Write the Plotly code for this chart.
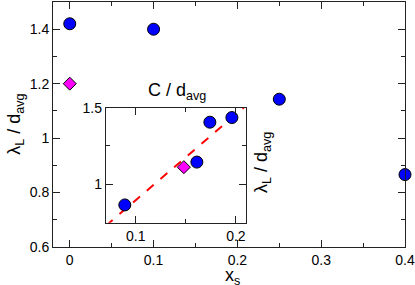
import plotly.graph_objects as go

# main data
xs_circles = [0.0, 0.1, 0.25, 0.4]
lam_circles = [1.42, 1.40, 1.143, 0.866]
xs_diamond = [0.0]
lam_diamond = [1.20]

# inset data
c_circles = [0.089, 0.161, 0.174, 0.196]
lam_in_circles = [0.866, 1.145, 1.405, 1.435]
c_diamond = [0.148]
lam_in_diamond = [1.112]
fit_x = [0.07, 0.21]
fit_y = [0.73, 1.512]

main_x_ticks = [0, 0.1, 0.2, 0.3, 0.4]
main_x_labels = ["0", "0.1", "0.2", "0.3", "0.4"]
main_y_ticks = [0.6, 0.8, 1.0, 1.2, 1.4]
main_y_labels = ["0.6", "0.8", "1", "1.2", "1.4"]
inset_x_ticks = [0.1, 0.2]
inset_x_labels = ["0.1", "0.2"]
inset_y_ticks = [1.0, 1.5]
inset_y_labels = ["1", "1.5"]

FONT = "Liberation Sans, Arial, sans-serif"
BLUE = "#0000ff"
MAG = "#ff00ff"

fig = go.Figure()
fig.add_trace(go.Scatter(x=xs_circles, y=lam_circles, mode="markers",
                         marker=dict(symbol="circle", size=12, color=BLUE,
                                     line=dict(color="black", width=1)),
                         xaxis="x", yaxis="y", cliponaxis=False))
fig.add_trace(go.Scatter(x=xs_diamond, y=lam_diamond, mode="markers",
                         marker=dict(symbol="diamond", size=10, color=MAG,
                                     line=dict(color="black", width=1)),
                         xaxis="x", yaxis="y"))
fig.add_trace(go.Scatter(x=fit_x, y=fit_y, mode="lines",
                         line=dict(color="#ff0000", width=2, dash="dash"),
                         xaxis="x2", yaxis="y2"))
fig.add_trace(go.Scatter(x=c_circles, y=lam_in_circles, mode="markers",
                         marker=dict(symbol="circle", size=12, color=BLUE,
                                     line=dict(color="black", width=1)),
                         xaxis="x2", yaxis="y2", cliponaxis=False))
fig.add_trace(go.Scatter(x=c_diamond, y=lam_in_diamond, mode="markers",
                         marker=dict(symbol="diamond", size=10, color=MAG,
                                     line=dict(color="black", width=1)),
                         xaxis="x2", yaxis="y2"))

axis_common = dict(showline=True, linecolor="#222", linewidth=1, mirror="ticks",
                   ticks="inside", ticklen=7, tickwidth=1, tickcolor="#222",
                   showgrid=False, zeroline=False, automargin=False,
                   tickfont=dict(family=FONT, size=14, color="black"))

fig.update_layout(
    width=415, height=285,
    margin=dict(l=53, r=10, t=2, b=38),
    paper_bgcolor="white", plot_bgcolor="white",
    showlegend=False,
    font=dict(family=FONT, color="black"),
    xaxis=dict(axis_common, range=[-0.02, 0.4], tickvals=main_x_ticks,
               ticktext=main_x_labels,
               minor=dict(ticks="inside", ticklen=4, dtick=0.05, tick0=0, tickcolor="#222")),
    yaxis=dict(axis_common, range=[0.6, 1.5], tickvals=main_y_ticks, ticktext=main_y_labels,
               minor=dict(ticks="inside", ticklen=4, dtick=0.1, tick0=0.6, tickcolor="#222")),
    xaxis2=dict(axis_common, domain=[0.15, 0.548], anchor="y2", range=[0.07, 0.21],
                tickvals=inset_x_ticks, ticktext=inset_x_labels,
                minor=dict(ticks="inside", ticklen=4, dtick=0.05, tick0=0, tickcolor="#222")),
    yaxis2=dict(axis_common, domain=[0.099, 0.569], anchor="x2", range=[0.75, 1.5],
                tickvals=inset_y_ticks, ticktext=inset_y_labels,
                minor=dict(ticks="inside", ticklen=4, dtick=0.25, tick0=0.75, tickcolor="#222")),
    annotations=[
        dict(text="x<sub>s</sub>", xref="paper", yref="paper", x=0.511, y=-0.12,
             xanchor="center", yanchor="middle", showarrow=False,
             font=dict(family=FONT, size=18, color="black")),
        dict(text="λ<sub>L</sub> / d<sub>avg</sub>", xref="paper", yref="paper", x=-0.107, y=0.5,
             xanchor="center", yanchor="middle", textangle=-90, showarrow=False,
             font=dict(family=FONT, size=18, color="black")),
        dict(text="C / d<sub>avg</sub>", xref="paper", yref="paper", x=0.352, y=0.633,
             xanchor="center", yanchor="middle", showarrow=False,
             font=dict(family=FONT, size=18, color="black")),
        dict(text="λ<sub>L</sub> / d<sub>avg</sub>", xref="paper", yref="paper", x=0.597, y=0.343,
             xanchor="center", yanchor="middle", textangle=-90, showarrow=False,
             font=dict(family=FONT, size=18, color="black")),
    ],
)

fig.write_html("out.html", config={"displayModeBar": False},
               post_script="document.body.style.margin='0';document.body.style.overflow='hidden';")
